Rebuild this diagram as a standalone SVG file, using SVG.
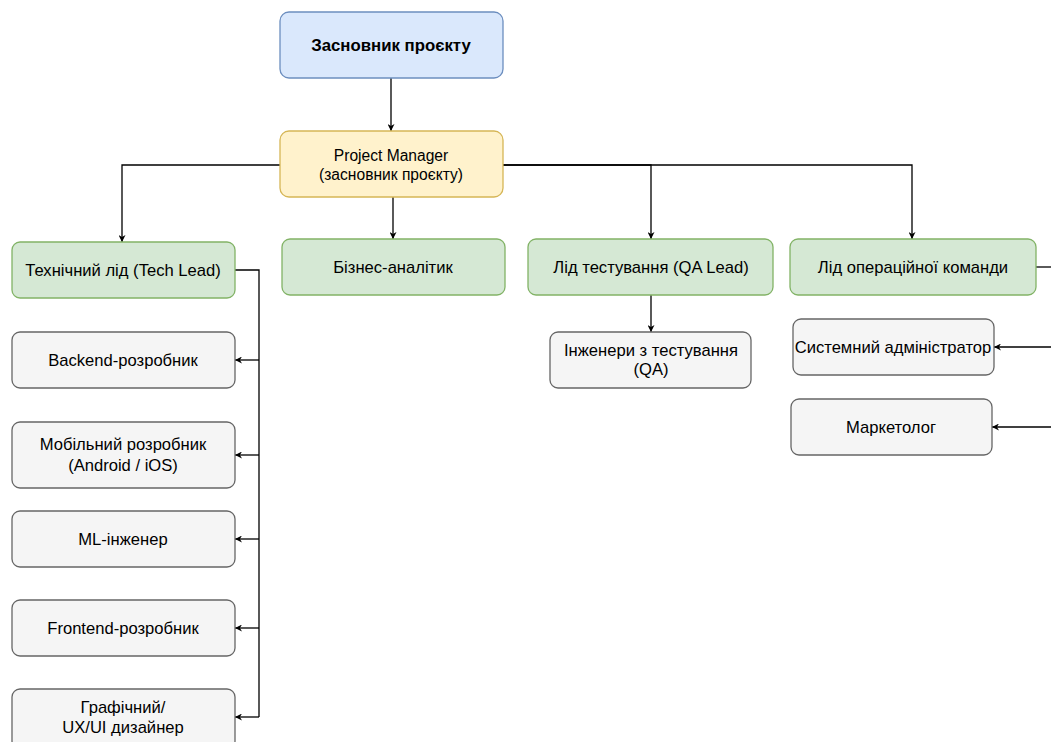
<svg xmlns="http://www.w3.org/2000/svg" width="1051" height="742" viewBox="0 0 1051 742">
<defs>
<marker id="arr" viewBox="0 0 10 10" refX="10" refY="5" markerWidth="7" markerHeight="7" markerUnits="userSpaceOnUse" orient="auto">
<path d="M0,0 L10,5 L0,10 L3,5 Z" fill="#000"/>
</marker>
<style>
text{font-family:"Liberation Sans",Arial,sans-serif;font-size:16.6px;fill:#000;text-anchor:middle;dominant-baseline:central}
.blue{fill:#dae8fc;stroke:#6c8ebf;stroke-width:1.3}
.yellow{fill:#fff2cc;stroke:#d6b656;stroke-width:1.3}
.green{fill:#d5e8d4;stroke:#82b366;stroke-width:1.3}
.grey{fill:#f5f5f5;stroke:#666666;stroke-width:1.3}
.edge{fill:none;stroke:#000;stroke-width:1.3;marker-end:url(#arr)}
.line{fill:none;stroke:#000;stroke-width:1.3}
</style>
</defs>
<rect width="1051" height="742" fill="#fff"/>
<g id="connectors">
<path class="edge" d="M391,78 V131"/>
<path class="edge" d="M280,165 H122 V242"/>
<path class="edge" d="M393,197 V239"/>
<path class="edge" d="M503,165 H651 V239"/>
<path class="edge" d="M503,165 H912 V239"/>
<path class="line" d="M235,270 H259 V717"/>
<path class="edge" d="M259,360 H235"/>
<path class="edge" d="M259,455 H235"/>
<path class="edge" d="M259,539 H235"/>
<path class="edge" d="M259,628 H235"/>
<path class="edge" d="M259,717 H235"/>
<path class="edge" d="M651,295 V332"/>
<path class="line" d="M1036,267 H1051"/>
<path class="edge" d="M1051,347 H994"/>
<path class="edge" d="M1051,427 H992"/>
</g>
<g id="founder"><rect class="blue" x="280" y="12" width="223" height="66" rx="9"/><text x="391" y="45" style="font-weight:bold;font-size:16.8px">Засновник проєкту</text></g>
<g id="pm"><rect class="yellow" x="280" y="131" width="223" height="66" rx="9"/><text x="391" y="155" style="font-size:15.6px">Project Manager</text><text x="391" y="174" style="font-size:15.6px">(засновник проєкту)</text></g>
<g id="techlead"><rect class="green" x="12" y="242" width="223" height="56" rx="8"/><text x="123" y="270">Технічний лід (Tech Lead)</text></g>
<g id="ba"><rect class="green" x="282" y="239" width="223" height="56" rx="8"/><text x="393" y="267">Бізнес-аналітик</text></g>
<g id="qalead"><rect class="green" x="528" y="239" width="245" height="56" rx="8"/><text x="651" y="267">Лід тестування (QA Lead)</text></g>
<g id="opslead"><rect class="green" x="790" y="239" width="246" height="56" rx="8"/><text x="913" y="267">Лід операційної команди</text></g>
<g id="backend"><rect class="grey" x="12" y="332" width="223" height="56" rx="8"/><text x="123" y="360">Backend-розробник</text></g>
<g id="mobile"><rect class="grey" x="12" y="422" width="223" height="66" rx="8"/><text x="123" y="444">Мобільний розробник</text><text x="123" y="465">(Android / iOS)</text></g>
<g id="ml"><rect class="grey" x="12" y="511" width="223" height="56" rx="8"/><text x="123" y="539">ML-інженер</text></g>
<g id="frontend"><rect class="grey" x="12" y="600" width="223" height="56" rx="8"/><text x="123" y="628">Frontend-розробник</text></g>
<g id="designer"><rect class="grey" x="12" y="689" width="223" height="60" rx="8"/><text x="123" y="707">Графічний/</text><text x="123" y="727">UX/UI дизайнер</text></g>
<g id="qa"><rect class="grey" x="550" y="332" width="201" height="56" rx="8"/><text x="651" y="350">Інженери з тестування</text><text x="651" y="369">(QA)</text></g>
<g id="sysadmin"><rect class="grey" x="793" y="319" width="201" height="56" rx="8"/><text x="893" y="347">Системний адміністратор</text></g>
<g id="marketer"><rect class="grey" x="791" y="399" width="201" height="56" rx="8"/><text x="891" y="427">Маркетолог</text></g>
</svg>
